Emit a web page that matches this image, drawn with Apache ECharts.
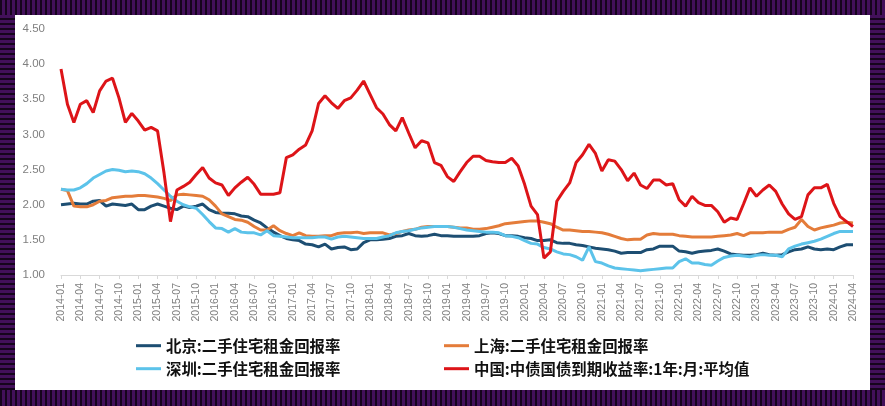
<!DOCTYPE html>
<html>
<head>
<meta charset="utf-8">
<script src="https://cdn.jsdelivr.net/npm/echarts@6/dist/echarts.min.js"></script>
<style>
  html, body { margin: 0; padding: 0; width: 885px; height: 406px; overflow: hidden; background: #3d0a50; }
  .b { position: absolute; }
  #top { left: 0; top: 0; width: 885px; height: 15px; background: repeating-linear-gradient(90deg, #15041c 0px, #15041c 2px, #42105a 2px, #42105a 5px); }
  #bottom { left: 0; top: 390px; width: 885px; height: 16px; background: repeating-linear-gradient(90deg, #15041c 0px, #15041c 2px, #42105a 2px, #42105a 5px); }
  #left { left: 0; top: 15px; width: 15px; height: 375px; background: repeating-linear-gradient(0deg, #15041c 0px, #15041c 2px, #42105a 2px, #42105a 5px); }
  #right { left: 870px; top: 15px; width: 15px; height: 375px; background: repeating-linear-gradient(0deg, #15041c 0px, #15041c 2px, #42105a 2px, #42105a 5px); }
  #panel { left: 15px; top: 15px; width: 855px; height: 375px; background: #ffffff; }
  #chart { position: absolute; left: 0; top: 0; width: 885px; height: 406px; }
</style>
</head>
<body>
<div id="top" class="b"></div>
<div id="bottom" class="b"></div>
<div id="left" class="b"></div>
<div id="right" class="b"></div>
<div id="panel" class="b"></div>
<div id="chart"></div>
<script>
// Categories: monthly 2014-01 .. 2024-04
const startYear = 2014, endYear = 2024, endMonth = 4;
const categories = [];
for (let y = startYear; y <= endYear; y++) {
  for (let m = 1; m <= 12; m++) {
    if (y === endYear && m > endMonth) break;
    categories.push(y + '-' + (m < 10 ? '0' + m : m));
  }
}

const seriesNames = ['北京:二手住宅租金回报率', '上海:二手住宅租金回报率', '深圳:二手住宅租金回报率', '中国:中债国债到期收益率:1年:月:平均值'];

const beijing = [
  2.00, 2.01, 2.02, 2.01, 2.01, 2.05, 2.06, 1.98, 2.01, 2.00, 1.99, 2.01,
  1.93, 1.93, 1.98, 2.01, 1.98, 1.95, 1.93, 1.98, 1.96, 1.98, 2.01, 1.93,
  1.89, 1.88, 1.88, 1.87, 1.84, 1.83, 1.78, 1.74, 1.67, 1.61, 1.56, 1.52,
  1.50, 1.49, 1.44, 1.43, 1.40, 1.44, 1.37, 1.39, 1.40, 1.36, 1.37, 1.46,
  1.50, 1.50, 1.51, 1.52, 1.55, 1.56, 1.59, 1.56, 1.55, 1.56, 1.58, 1.56,
  1.56, 1.55, 1.55, 1.55, 1.55, 1.56, 1.59, 1.60, 1.59, 1.56, 1.56, 1.55,
  1.53, 1.52, 1.49, 1.49, 1.50, 1.46, 1.45, 1.45, 1.43, 1.42, 1.40, 1.38,
  1.37, 1.36, 1.34, 1.31, 1.32, 1.32, 1.32, 1.36, 1.37, 1.41, 1.41, 1.41,
  1.34, 1.33, 1.31, 1.33, 1.34, 1.35, 1.37, 1.34, 1.30, 1.29, 1.28, 1.28,
  1.29, 1.31, 1.29, 1.28, 1.29, 1.33, 1.36, 1.37, 1.40, 1.37, 1.36, 1.37,
  1.36, 1.40, 1.43, 1.43
];

const shanghai = [
  2.22, 2.20, 1.98, 1.97, 1.97, 2.00, 2.05, 2.06, 2.10, 2.11, 2.12, 2.12,
  2.13, 2.13, 2.12, 2.11, 2.09, 2.06, 2.14, 2.15, 2.14, 2.13, 2.12, 2.07,
  1.98, 1.87, 1.83, 1.79, 1.78, 1.75, 1.69, 1.64, 1.64, 1.70, 1.63, 1.59,
  1.56, 1.60, 1.56, 1.55, 1.55, 1.56, 1.56, 1.59, 1.60, 1.60, 1.61, 1.59,
  1.60, 1.60, 1.60, 1.57, 1.59, 1.62, 1.64, 1.65, 1.68, 1.69, 1.69, 1.69,
  1.69, 1.68, 1.67, 1.67, 1.65, 1.65, 1.66, 1.68, 1.70, 1.73, 1.74, 1.75,
  1.76, 1.77, 1.77, 1.75, 1.73, 1.68, 1.64, 1.64, 1.63, 1.62, 1.62, 1.61,
  1.60, 1.58, 1.55, 1.52, 1.50, 1.51, 1.51, 1.57, 1.59, 1.58, 1.58, 1.58,
  1.56, 1.55, 1.54, 1.54, 1.54, 1.54, 1.55, 1.56, 1.57, 1.59, 1.56, 1.60,
  1.60, 1.60, 1.61, 1.61, 1.61, 1.65, 1.68, 1.79, 1.69, 1.64, 1.67, 1.69,
  1.71, 1.74, 1.75, 1.74
];

const shenzhen = [
  2.22, 2.21, 2.21, 2.24, 2.30, 2.38, 2.43, 2.48, 2.50, 2.49, 2.47, 2.48,
  2.47, 2.44, 2.38, 2.30, 2.21, 2.12, 2.05, 2.00, 1.97, 1.95, 1.86, 1.76,
  1.67, 1.66, 1.61, 1.66, 1.61, 1.60, 1.60, 1.57, 1.63, 1.56, 1.55, 1.54,
  1.53, 1.53, 1.53, 1.53, 1.54, 1.54, 1.51, 1.54, 1.55, 1.54, 1.53, 1.52,
  1.52, 1.52, 1.54, 1.56, 1.60, 1.62, 1.63, 1.65, 1.67, 1.68, 1.69, 1.69,
  1.69, 1.68, 1.66, 1.64, 1.63, 1.62, 1.61, 1.61, 1.60, 1.56, 1.55, 1.53,
  1.49, 1.45, 1.44, 1.39, 1.37, 1.33, 1.30, 1.29, 1.26, 1.21, 1.40, 1.19,
  1.17, 1.13, 1.10, 1.09, 1.08, 1.07, 1.06, 1.07, 1.08, 1.09, 1.10, 1.10,
  1.19, 1.23, 1.17, 1.17, 1.15, 1.14, 1.20, 1.25, 1.27, 1.28, 1.27, 1.26,
  1.28, 1.29, 1.28, 1.28, 1.26, 1.37, 1.41, 1.44, 1.46, 1.48, 1.51, 1.55,
  1.59, 1.62, 1.62, 1.62
];

const cgb1y = [
  3.93, 3.43, 3.17, 3.43, 3.48, 3.31, 3.62, 3.76, 3.80, 3.52, 3.17, 3.30,
  3.19, 3.06, 3.10, 3.05, 2.45, 1.76, 2.21, 2.26, 2.32, 2.43, 2.53, 2.38,
  2.31, 2.28, 2.13, 2.24, 2.32, 2.39, 2.29, 2.15, 2.15, 2.15, 2.17, 2.67,
  2.71, 2.79, 2.85, 3.05, 3.44, 3.55, 3.45, 3.37, 3.48, 3.52, 3.63, 3.76,
  3.57, 3.38, 3.29, 3.14, 3.05, 3.24, 3.02, 2.81, 2.91, 2.88, 2.60, 2.56,
  2.40, 2.33, 2.47, 2.60, 2.69, 2.69, 2.63, 2.61, 2.60, 2.60, 2.66, 2.55,
  2.29, 1.98, 1.86, 1.24, 1.33, 2.05, 2.19, 2.31, 2.60, 2.71, 2.86, 2.73,
  2.48, 2.64, 2.62, 2.50, 2.34, 2.45, 2.28, 2.23, 2.35, 2.35, 2.28, 2.30,
  2.07, 1.98, 2.12, 2.03, 1.99, 1.99, 1.90, 1.75, 1.81, 1.79, 2.01, 2.24,
  2.12, 2.21, 2.28, 2.19, 2.01, 1.87, 1.79, 1.83, 2.14, 2.24, 2.24, 2.29,
  2.02, 1.83, 1.76, 1.69
];

const yTicks = { min: 1.0, max: 4.5, interval: 0.5 };

const colors = ['#1d4e72', '#e47c3a', '#5cc3ea', '#dd1418'];
const values = [beijing, shanghai, shenzhen, cgb1y];

const chart = echarts.init(document.getElementById('chart'), null, { renderer: 'canvas' });

const legendPos = [
  { left: 136, top: 338 },
  { left: 444, top: 338 },
  { left: 136, top: 361 },
  { left: 444, top: 361 }
];

const option = {
  animation: false,
  backgroundColor: 'transparent',
  grid: { left: 61, right: 32, top: 29, bottom: 131, containLabel: false },
  legend: seriesNames.map((n, i) => ({
    data: [n],
    left: legendPos[i].left,
    top: legendPos[i].top,
    padding: 0,
    icon: 'rect',
    itemWidth: 25,
    itemHeight: 3,
    selectedMode: false,
    textStyle: { fontSize: 15.4, color: '#111111', fontWeight: 'bold', fontFamily: 'Noto Sans CJK SC' }
  })),
  xAxis: {
    type: 'category',
    data: categories,
    boundaryGap: false,
    axisLine: { lineStyle: { color: '#d9d9d9', width: 1 } },
    axisTick: { show: true, interval: 2, length: 4, lineStyle: { color: '#d9d9d9' } },
    axisLabel: {
      interval: 2, rotate: 90, margin: 8,
      fontSize: 10.5, color: '#7f7f7f', fontFamily: 'Liberation Sans'
    },
    splitLine: { show: false }
  },
  yAxis: {
    type: 'value',
    min: yTicks.min, max: yTicks.max, interval: yTicks.interval,
    axisLine: { show: false },
    axisTick: { show: false },
    splitLine: { show: false },
    axisLabel: {
      margin: 16, fontSize: 11.5, color: '#7f7f7f', fontFamily: 'Liberation Sans',
      formatter: v => v.toFixed(2)
    }
  },
  series: seriesNames.map((n, i) => ({
    name: n,
    type: 'line',
    data: values[i],
    symbol: 'none',
    smooth: false,
    lineStyle: { width: 3, color: colors[i] },
    itemStyle: { color: colors[i] },
    z: 2 + i
  }))
};

chart.setOption(option);
</script>
</body>
</html>
